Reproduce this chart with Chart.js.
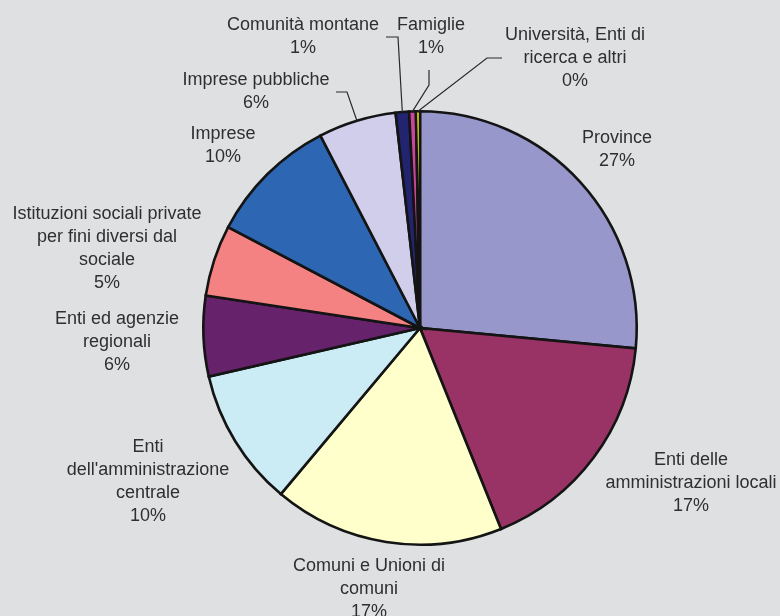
<!DOCTYPE html>
<html>
<head>
<meta charset="utf-8">
<script src="https://cdn.jsdelivr.net/npm/chart.js@4.4.1/dist/chart.umd.min.js"></script>
<style>
  html, body { margin: 0; padding: 0; background: #dfe0e2; }
  #wrap { width: 780px; height: 616px; position: relative; }
</style>
</head>
<body>
<div id="wrap"><canvas id="pie"></canvas></div>
<script>
'use strict';

// ── Data ──────────────────────────────────────────────────────────────────────
const categories = [
  'Province',
  'Enti delle\namministrazioni locali',
  'Comuni e Unioni di\ncomuni',
  'Enti\ndell\'amministrazione\ncentrale',
  'Enti ed agenzie\nregionali',
  'Istituzioni sociali private\nper fini diversi dal\nsociale',
  'Imprese',
  'Imprese pubbliche',
  'Comunità montane',
  'Famiglie',
  'Università, Enti di\nricerca e altri',
];
const shares = [26.5, 17.4, 17.2, 10.3, 6.0, 5.3, 9.7, 5.8, 1.0, 0.5, 0.3];

// ── Style ─────────────────────────────────────────────────────────────────────
const colors = [
  '#9797cb', '#993366', '#ffffcc', '#ccecf5', '#66226a', '#f58282',
  '#2d67b3', '#d0ceeb', '#232470', '#c8479c', '#ffff00',
];

// label anchor (centre of first text line) relative to pie centre,
// optional leader polyline (relative to centre) ending at the slice edge
const labelLayout = [
  { dx: 197,  dy: -190 },
  { dx: 271,  dy: 132 },
  { dx: -51,  dy: 238 },
  { dx: -272, dy: 119 },
  { dx: -303, dy: -9 },
  { dx: -313, dy: -114 },
  { dx: -197, dy: -194 },
  { dx: -164, dy: -248, leader: [[-84, -236], [-73, -236]] },
  { dx: -117, dy: -303, leader: [[-34, -291], [-22, -291]] },
  { dx: 11,   dy: -303, leader: [[9, -258], [9, -243]] },
  { dx: 155,  dy: -293, leader: [[82, -270], [67, -270]] },
];

const FONT = "18px 'Liberation Sans', Arial, sans-serif";
const LINE_H = 23;

// ── Helpers ───────────────────────────────────────────────────────────────────
const total = shares.reduce((a, b) => a + b, 0);
function pct(v) { return Math.round(+(v / total * 100).toFixed(6)) + '%'; }

// ── Labels plugin ─────────────────────────────────────────────────────────────
const pieLabels = {
  id: 'pieLabels',
  afterDatasetsDraw(chart) {
    const ctx  = chart.ctx;
    const arcs = chart.getDatasetMeta(0).data;
    ctx.save();
    arcs.forEach((arc, i) => {
      const lay = labelLayout[i];
      const cx = arc.x, cy = arc.y;

      if (lay.leader) {
        const mid = (arc.startAngle + arc.endAngle) / 2;
        const ex = cx + arc.outerRadius * Math.cos(mid);
        const ey = cy + arc.outerRadius * Math.sin(mid);
        ctx.beginPath();
        lay.leader.forEach(([px, py], k) => {
          if (k === 0) ctx.moveTo(cx + px, cy + py);
          else ctx.lineTo(cx + px, cy + py);
        });
        ctx.lineTo(ex, ey);
        ctx.strokeStyle = '#2a2a2a';
        ctx.lineWidth = 1.2;
        ctx.stroke();
      }

      const lines = categories[i].split('\n').concat(pct(shares[i]));
      ctx.font = FONT;
      ctx.fillStyle = '#2f2f2f';
      ctx.textAlign = 'center';
      ctx.textBaseline = 'middle';
      lines.forEach((t, k) => ctx.fillText(t, cx + lay.dx, cy + lay.dy + k * LINE_H));
    });
    ctx.restore();
  }
};

// ── Chart ─────────────────────────────────────────────────────────────────────
new Chart(document.getElementById('pie'), {
  type: 'pie',
  data: {
    labels: categories,
    datasets: [{
      data: shares,
      backgroundColor: colors,
      borderColor: '#141414',
      borderWidth: 2.6,
      borderJoinStyle: 'miter',
    }]
  },
  options: {
    responsive: true,
    maintainAspectRatio: false,
    animation: false,
    layout: { padding: { left: 202, right: 142, top: 110, bottom: 70 } },
    plugins: {
      legend:  { display: false },
      tooltip: { enabled: false },
    },
  },
  plugins: [pieLabels],
});
</script>
</body>
</html>
